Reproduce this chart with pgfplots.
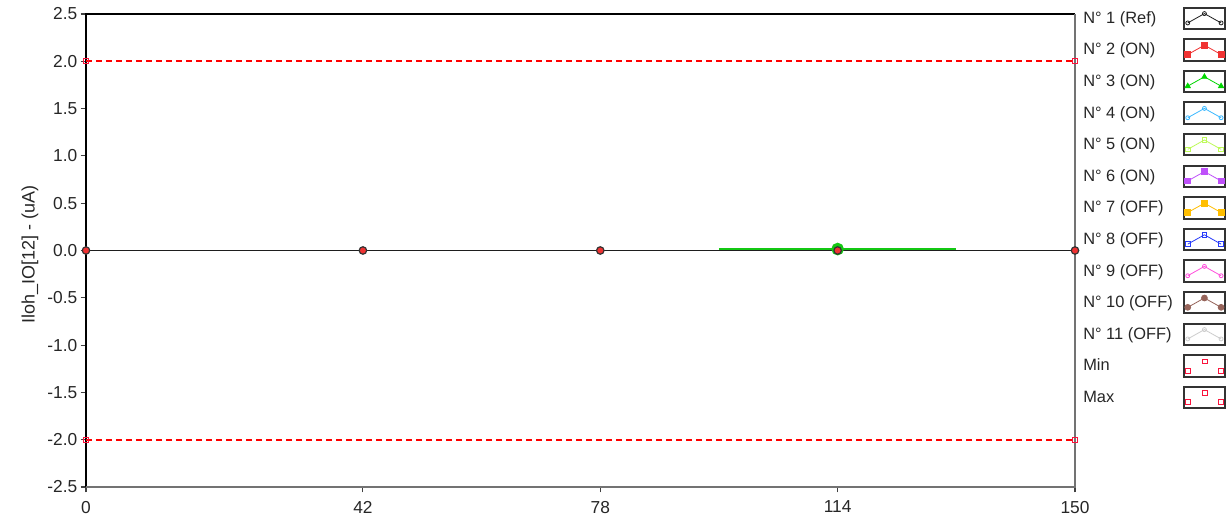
\documentclass[border=0pt]{standalone}
\usepackage{fontspec}
\setmainfont{Liberation Sans}
\usepackage{pgfplots}
\pgfplotsset{compat=1.18}

\definecolor{cref}{RGB}{30,30,30}
\definecolor{ctwo}{RGB}{240,50,50}
\definecolor{cthree}{RGB}{0,215,0}
\definecolor{cfour}{RGB}{60,185,255}
\definecolor{cfive}{RGB}{190,250,90}
\definecolor{csix}{RGB}{190,80,250}
\definecolor{cseven}{RGB}{255,190,0}
\definecolor{ceight}{RGB}{40,60,250}
\definecolor{cnine}{RGB}{255,80,220}
\definecolor{cten}{RGB}{150,100,90}
\definecolor{celeven}{RGB}{205,205,205}
\definecolor{climit}{RGB}{250,20,60}
\definecolor{cgreen}{RGB}{20,200,20}

\pgfplotsset{
  boxleg/.style={legend image code/.code={
    \draw[draw=black!80,line width=1.5pt,fill=white,solid] (0pt,-8pt) rectangle (31pt,8pt);
    \draw[line width=0.6pt] plot coordinates {(3pt,-3.5pt) (15.5pt,3.5pt) (28pt,-3.5pt)};
  }},
  boxmarks/.style={legend image code/.code={
    \draw[draw=black!80,line width=1.5pt,fill=white,solid] (0pt,-8pt) rectangle (31pt,8pt);
    \draw[only marks] plot coordinates {(3pt,-3.5pt) (15.5pt,3.5pt) (28pt,-3.5pt)};
  }},
}

\begin{document}
\begin{tikzpicture}
\useasboundingbox (-64.5pt,-27pt) rectangle (858.75pt,365.25pt);
\begin{axis}[
  at={(0,0)}, anchor=south west,
  scale only axis, width=741.75pt, height=354.75pt,
  xmin=0, xmax=150, ymin=-2.5, ymax=2.5,
  xtick={0,42,78,114,150},
  ytick={-2.5,-2,-1.5,-1,-0.5,0,0.5,1,1.5,2,2.5},
  xtick pos=bottom, ytick pos=left,
  tick align=outside, major tick length=4pt,
  tick style={black!75, line width=0.8pt},
  axis line style={draw=none},
  /pgf/number format/assume math mode=true,
  ticklabel style={font=\fontsize{13}{15}\selectfont, text=black!85},
  xticklabel style={yshift=-3pt},
  yticklabel style={xshift=1pt, /pgf/number format/.cd, fixed, fixed zerofill, precision=1},
  ylabel={Iloh\_IO[12] - (uA)},
  every axis y label/.style={at={(axis description cs:0,0.5)}, xshift=-42pt, yshift=-3pt,
    rotate=90, anchor=center, font=\fontsize{13.5}{15}\selectfont, text=black!85},
  clip=false,
  legend plot pos=right,
  legend cell align=left,
  legend style={draw=none, fill=none, at={(1,1)}, anchor=north west,
    xshift=6pt, yshift=5.75pt, inner sep=0pt, row sep=6.2pt, column sep=7.5pt,
    font=\fontsize{12.3}{14}\selectfont, text=black!85,
    nodes={inner sep=0pt, anchor=west}},
]
% frame: left and top dark, bottom and right grey
\draw[black, line width=0.9pt] (rel axis cs:0,0) -- (rel axis cs:0,1) -- (rel axis cs:1,1);
\draw[black!55, line width=0.9pt] (rel axis cs:0,0) -- (rel axis cs:1,0) -- (rel axis cs:1,1);

% legend entries
\addlegendimage{boxleg, cref, mark=o, mark size=1.5pt}
\addlegendentry{N° 1 (Ref)}
\addlegendimage{boxleg, ctwo, mark=square*, mark size=2.2pt}
\addlegendentry{N° 2 (ON)}
\addlegendimage{boxleg, cthree, mark=triangle*, mark size=2.2pt}
\addlegendentry{N° 3 (ON)}
\addlegendimage{boxleg, cfour, mark=o, mark size=1.5pt}
\addlegendentry{N° 4 (ON)}
\addlegendimage{boxleg, cfive, mark=square, mark size=1.8pt}
\addlegendentry{N° 5 (ON)}
\addlegendimage{boxleg, csix, mark=square*, mark size=2.2pt}
\addlegendentry{N° 6 (ON)}
\addlegendimage{boxleg, cseven, mark=square*, mark size=2.2pt}
\addlegendentry{N° 7 (OFF)}
\addlegendimage{boxleg, ceight, mark=square, mark size=1.8pt}
\addlegendentry{N° 8 (OFF)}
\addlegendimage{boxleg, cnine, mark=o, mark size=1.5pt}
\addlegendentry{N° 9 (OFF)}
\addlegendimage{boxleg, cten, mark=*, mark size=2.2pt}
\addlegendentry{N° 10 (OFF)}
\addlegendimage{boxleg, celeven, mark=o, mark size=1.5pt}
\addlegendentry{N° 11 (OFF)}
\addlegendimage{boxmarks, climit, mark=square, mark size=1.8pt}
\addlegendentry{Min}
\addlegendimage{boxmarks, climit, mark=square, mark size=1.8pt}
\addlegendentry{Max}

% limits: dashed lines and end marks
\addplot[forget plot, no marks, draw=red, line width=1.5pt, dash pattern=on 4.5pt off 3pt]
  coordinates {(0,-2) (150,-2)};
\addplot[forget plot, no marks, draw=red, line width=1.5pt, dash pattern=on 4.5pt off 3pt]
  coordinates {(0,2) (150,2)};
\addplot[forget plot, only marks, climit, mark=square, mark size=1.8pt, line width=0.8pt]
  coordinates {(0,-2) (150,-2) (0,2) (150,2)};

% measured series
\addplot[forget plot, cgreen, line width=2.2pt, mark=*, mark size=3.6pt, mark indices={2}]
  coordinates {(96,0.015) (114,0.015) (132,0.015)};
\addplot[forget plot, cref, line width=1.1pt, mark=*, mark size=2.8pt,
  mark options={fill=ctwo, draw=black!80, line width=0.9pt}]
  coordinates {(0,0) (42,0) (78,0) (114,0) (150,0)};
\end{axis}
\end{tikzpicture}
\end{document}
